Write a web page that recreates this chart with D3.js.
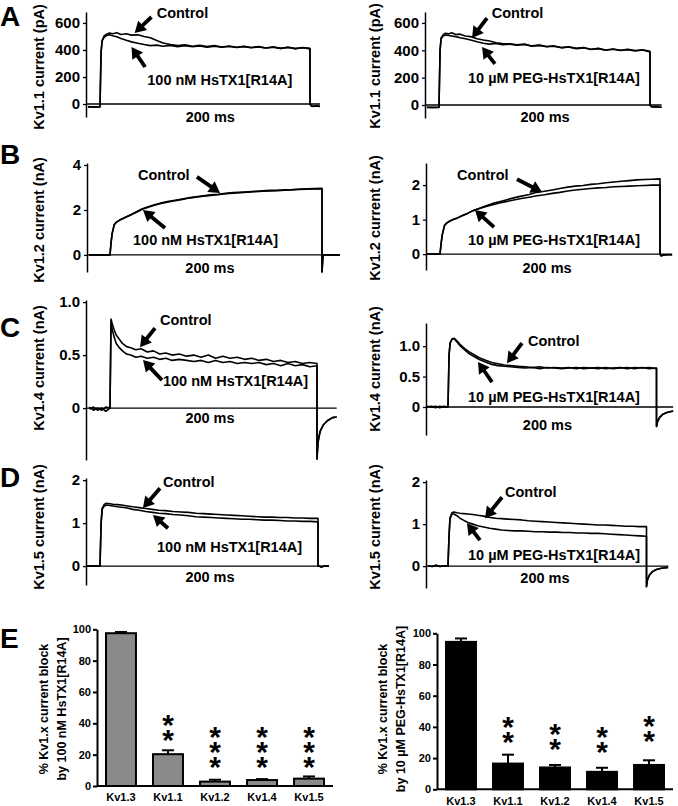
<!DOCTYPE html>
<html><head><meta charset="utf-8">
<script src="https://cdn.jsdelivr.net/npm/d3@7"></script>
<style>
body{margin:0;background:#fff}
svg{display:block}
text{font-family:"Liberation Sans",Arial,sans-serif;font-weight:bold;fill:#000}
</style>
</head><body>
<svg id="fig" width="678" height="806"></svg>
<script>
// ---------- time grid (ms) shared by all current traces ----------
const timeMs = [-20,-16,-12,-8,-4,0, 1,2,4,6,9,12,16,20,25,30,36,42,48,54,60,67,74,81,88,95,102,109,116,123,130,137,144,151,158,165,172,179,186,193,200, 200,201,203,206,210,215,222];

// ---------- Panel A: Kv1.1 (pA) ----------
const kv11HsCtrl = [-22,-18,-24,-20,-22,-20, 380,470,505,515,525,520,528,515,520,510, 512,500,490,470,452, 440,432,438,428,435,425,432,422,430,420, 428,418,425,415,422,412,420,410,418,412, 0,-12,-18,-14,-18,-15,-16];
const kv11HsDrug = [-20,-22,-18,-22,-20,-21, 380,465,495,505,512,505,498,485,472,460, 450,440,432,436,428, 434,425,432,424,430,421,428,420,426,418, 425,416,423,414,421,412,419,410,417,408, 0,-12,-16,-14,-17,-15,-16];
const kv11PegCtrl = [-18,-14,-20,-16,-18,-16, 400,490,515,525,520,528,515,518,505,500, 485,475,468,455,450, 448,440,445,432,438,428,432,420,425,415, 420,408,414,402,410,400,407,398,404,392, 0,-10,-14,-12,-16,-18,-22];
const kv11PegDrug = [-16,-18,-14,-18,-16,-18, 400,485,505,512,508,505,500,492,485,475, 462,452,445,450,440, 445,437,442,430,436,426,430,418,424,412, 418,406,412,400,408,398,405,395,402,388, 0,-10,-14,-12,-16,-18,-22];

// ---------- Panel B: Kv1.2 (nA) ----------
const kv12HsCtrl = [0,0,0,0,0,0, 0.55,0.95,1.35,1.46,1.55,1.62,1.71,1.80,1.92,2.04, 2.14,2.23,2.31,2.37,2.42, 2.48,2.54,2.59,2.63,2.67,2.70,2.74,2.77,2.79,2.81, 2.83,2.85,2.87,2.88,2.90,2.91,2.93,2.94,2.95,2.96, -0.76,0,0,0,0,0,0];
const kv12HsDrug = [0,0,0,0,0,0, 0.55,0.95,1.34,1.45,1.54,1.61,1.70,1.79,1.90,2.02, 2.12,2.21,2.29,2.35,2.40, 2.46,2.52,2.57,2.61,2.65,2.68,2.72,2.75,2.77,2.79, 2.81,2.83,2.85,2.86,2.88,2.89,2.91,2.92,2.93,2.94, -0.76,0,0,0,0,0,0];
const kv12PegCtrl = [0,0,0,0,0,0, 0.30,0.55,0.82,0.90,0.96,1.00,1.05,1.11,1.18,1.26, 1.33,1.40,1.47,1.52,1.57, 1.63,1.68,1.73,1.79,1.82,1.86,1.90,1.94,1.97,1.99, 2.02,2.04,2.07,2.09,2.11,2.13,2.15,2.16,2.17,2.18, 0,-0.05,-0.03,-0.02,-0.02,-0.01,-0.01];
const kv12PegDrug = [0,0,0,0,0,0, 0.30,0.55,0.82,0.90,0.96,1.00,1.05,1.11,1.18,1.26, 1.32,1.38,1.43,1.48,1.52, 1.57,1.61,1.65,1.69,1.72,1.76,1.79,1.83,1.86,1.88, 1.90,1.92,1.93,1.95,1.96,1.97,1.98,1.99,2.00,2.00, 0,-0.05,-0.03,-0.02,-0.02,-0.01,-0.01];

// ---------- Panel C: Kv1.4 (nA) ----------
const kv14HsCtrl = [-0.01,0.01,-0.02,0.0,-0.03,0.0, 0.84,0.80,0.74,0.69,0.65,0.61,0.58,0.57,0.55,0.56, 0.53,0.54,0.51,0.52,0.50, 0.51,0.49,0.50,0.48,0.50,0.47,0.49,0.47,0.48,0.46, 0.47,0.45,0.46,0.44,0.45,0.43,0.44,0.42,0.43,0.42, -0.48,-0.32,-0.22,-0.16,-0.12,-0.09,-0.08];
const kv14HsDrug = [0.01,-0.02,0.0,-0.02,0.01,0.0, 0.82,0.75,0.67,0.61,0.57,0.54,0.51,0.50,0.48,0.49, 0.47,0.48,0.46,0.47,0.45, 0.46,0.45,0.44,0.45,0.43,0.45,0.43,0.44,0.42,0.43, 0.42,0.43,0.41,0.42,0.40,0.42,0.40,0.41,0.39,0.40, -0.48,-0.32,-0.22,-0.16,-0.12,-0.09,-0.08];
const kv14PegCtrl = [0.0,0.01,-0.01,0.01,0.0,0.0, 0.85,1.05,1.12,1.13,1.08,1.02,0.96,0.91,0.86,0.81, 0.77,0.73,0.71,0.69,0.68, 0.67,0.66,0.65,0.66,0.64,0.65,0.64,0.65,0.63,0.65, 0.64,0.65,0.63,0.64,0.65,0.63,0.65,0.64,0.65,0.63, -0.32,-0.24,-0.17,-0.12,-0.09,-0.07,-0.06];
const kv14PegDrug = [0.01,0.0,0.01,-0.01,0.01,0.0, 0.85,1.05,1.12,1.12,1.06,1.00,0.94,0.88,0.83,0.78, 0.74,0.70,0.68,0.67,0.66, 0.65,0.64,0.65,0.63,0.65,0.64,0.63,0.64,0.65,0.63, 0.64,0.63,0.65,0.63,0.64,0.65,0.63,0.65,0.63,0.64, -0.32,-0.24,-0.17,-0.12,-0.09,-0.07,-0.06];

// ---------- Panel D: Kv1.5 (nA) ----------
const kv15HsCtrl = [0,0,0,0,0,0, 1.00,1.35,1.44,1.46,1.45,1.44,1.43,1.42,1.40,1.38, 1.36,1.34,1.32,1.30,1.29, 1.27,1.26,1.25,1.23,1.22,1.21,1.20,1.19,1.18,1.17, 1.16,1.15,1.14,1.14,1.13,1.13,1.12,1.12,1.11,1.11, 0,0,-0.02,0,0,0,0];
const kv15HsDrug = [0,0,0,0,0,0, 1.00,1.32,1.40,1.42,1.41,1.40,1.38,1.37,1.35,1.32, 1.30,1.27,1.25,1.23,1.22, 1.20,1.19,1.17,1.15,1.14,1.13,1.12,1.11,1.10,1.09, 1.09,1.08,1.07,1.07,1.06,1.05,1.05,1.04,1.04,1.03, 0,0,-0.02,0,0,0,0];
const kv15PegCtrl = [0.01,-0.01,0.02,-0.01,0.01,0.0, 0.70,1.15,1.27,1.29,1.27,1.26,1.25,1.24,1.23,1.21, 1.19,1.16,1.14,1.13,1.12, 1.11,1.10,1.08,1.07,1.06,1.05,1.04,1.03,1.02,1.01, 1.00,0.99,0.98,0.98,0.97,0.96,0.95,0.95,0.94,0.94, -0.49,-0.32,-0.21,-0.13,-0.08,-0.05,-0.03];
const kv15PegDrug = [0.01,-0.01,0.02,-0.01,0.01,0.0, 0.70,1.12,1.24,1.24,1.20,1.14,1.09,1.04,1.00,0.96, 0.93,0.90,0.88,0.86,0.85, 0.84,0.84,0.83,0.82,0.82,0.81,0.81,0.80,0.80,0.79, 0.79,0.78,0.78,0.77,0.76,0.75,0.74,0.73,0.72,0.71, -0.49,-0.32,-0.21,-0.13,-0.08,-0.05,-0.03];

// ---------- axis tick values ----------
const ticksKv11 = [0,200,400,600];
const ticksKv12Hs = [0,2,4];
const ticksKv12Peg = [0,1,2];
const ticksKv14 = [0,0.5,1.0];
const ticksKv15 = [0,1,2];

// ---------- Panel E: % block ----------
const channels = ["Kv1.3","Kv1.1","Kv1.2","Kv1.4","Kv1.5"];
const blockHs = [97.5, 20.3, 2.8, 3.8, 4.7];
const blockHsErr = [0.8, 2.5, 1.2, 0.6, 1.4];
const blockPeg = [94.5, 16.5, 14.0, 11.2, 15.6];
const blockPegErr = [2.2, 5.7, 1.6, 2.6, 3.0];
const starsHs = ["", "**", "***", "***", "***"];
const starsPeg = ["", "**", "**", "**", "**"];
const starTopHs = [0, 43.4, 35.7, 35.7, 35.7];
const starTopPeg = [0, 44.4, 40.1, 38.0, 45.0];
const ticksBlock = [0,20,40,60,80,100];

const hsLabel = "100 nM HsTX1[R14A]";
const pegLabel = "10 \u00b5M PEG-HsTX1[R14A]";

const fmtInt = d3.format("d");
const fmtNa = d => d === 0 ? "0" : d3.format(".1f")(d);

// layout + annotation positions (annotation positions in data units: [t ms, value])
const panels = [
 {letter:"A", lx:0, ly:25.5, ylab:"Kv1.1 current (pA)", ctrl:kv11HsCtrl, drug:kv11HsDrug, dText:hsLabel, ticks:ticksKv11, fmt:fmtInt,
  axisX:86, stepX:100, endX:310, yTop:12, yBot:117, yDom:[-96,681], tDom:[-11.5,209.5], labX:39, labY:67,
  cT:[54,674], dT:[45,178], ms:[105,-96], aC:[49,644,33,526], aD:[43,274,30,422]},
 {ylab:"Kv1.1 current (pA)", ctrl:kv11PegCtrl, drug:kv11PegDrug, dText:pegLabel, ticks:ticksKv11, fmt:fmtInt,
  axisX:425, stepX:439, endX:650, yTop:12, yBot:118, yDom:[-95,680], tDom:[-11.5,211], labX:375, labY:66,
  cT:[50,673], dT:[27.5,198], ms:[100.5,-88], aC:[45.5,636,31.3,490], aD:[53,300,40.8,424]},
 {letter:"B", lx:0, ly:164, ylab:"Kv1.2 current (nA)", ctrl:kv12HsCtrl, drug:kv12HsDrug, dText:hsLabel, ticks:ticksKv12Hs, fmt:fmtInt,
  axisX:87, stepX:110, endX:322, yTop:163, yBot:272, yDom:[-0.76,4.09], tDom:[-20,217], labX:39, labY:220,
  cT:[26.4,3.56], dT:[21.7,0.67], ms:[94.3,-0.58], aC:[82,3.47,103.8,2.76], aD:[51.9,1.2,31.1,2.0]},
 {ylab:"Kv1.2 current (nA)", ctrl:kv12PegCtrl, drug:kv12PegDrug, dText:pegLabel, ticks:ticksKv12Peg, fmt:fmtInt,
  axisX:426, stepX:440, endX:660, yTop:163, yBot:270, yDom:[-0.46,2.64], tDom:[-12,211], labX:375, labY:218,
  cT:[15.5,2.29], dT:[25.5,0.41], ms:[97.3,-0.41], aC:[70,2.17,92.7,1.80], aD:[49.1,0.78,31.8,1.28]},
 {letter:"C", lx:0, ly:337, ylab:"Kv1.4 current (nA)", ctrl:kv14HsCtrl, drug:kv14HsDrug, dText:hsLabel, ticks:ticksKv14, fmt:fmtNa,
  axisX:86, stepX:110, endX:317, yTop:300, yBot:460, yDom:[-0.49,1.02], tDom:[-21,219], labX:39, labY:368,
  cT:[48.3,0.83], dT:[51.2,0.26], ms:[96.6,-0.094], aC:[43.5,0.755,29,0.575], aD:[50.2,0.264,31.9,0.453]},
 {ylab:"Kv1.4 current (nA)", ctrl:kv14PegCtrl, drug:kv14PegDrug, dText:pegLabel, ticks:ticksKv14, fmt:fmtNa,
  axisX:426, stepX:448, endX:656.5, yTop:323, yBot:435, yDom:[-0.46,1.38], tDom:[-20.5,216], labX:375, labY:369,
  cT:[76.7,1.087], dT:[19.2,0.169], ms:[95.4,-0.295], aC:[71,1.05,56.6,0.72], aD:[42.2,0.41,28.8,0.74]},
 {letter:"D", lx:0, ly:487, ylab:"Kv1.5 current (nA)", ctrl:kv15HsCtrl, drug:kv15HsDrug, dText:hsLabel, ticks:ticksKv15, fmt:fmtInt,
  axisX:86, stepX:100, endX:318, yTop:478, yBot:585, yDom:[-0.44,2.05], tDom:[-12.5,210], labX:39, labY:527,
  cT:[57.8,1.95], dT:[52.3,0.44], ms:[100.9,-0.26], aC:[55,1.81,39.4,1.35], aD:[62.4,0.88,48.6,1.19]},
 {ylab:"Kv1.5 current (nA)", ctrl:kv15PegCtrl, drug:kv15PegDrug, dText:pegLabel, ticks:ticksKv15, fmt:fmtInt,
  axisX:426, stepX:448, endX:646.5, yTop:480, yBot:588, yDom:[-0.52,2.05], tDom:[-20.5,222], labX:375, labY:527,
  cT:[57.4,1.76], dT:[20.2,0.26], ms:[97.7,-0.29], aC:[54.4,1.64,37.3,1.14], aD:[32.2,0.62,19.1,1.02]}
];

const svg = d3.select("#fig");
const defs = svg.append("defs");

function arrow(g, x1, y1, x2, y2){
  const dx = x2-x1, dy = y2-y1, L = Math.hypot(dx,dy);
  const ux = dx/L, uy = dy/L, nx = -uy, ny = ux;
  const sw = 1.9, hw = 6.5, hl = 11;
  const bx = x2-ux*hl, by = y2-uy*hl;
  const pts = [[x1+nx*sw,y1+ny*sw],[bx+nx*sw,by+ny*sw],[bx+nx*hw,by+ny*hw],[x2,y2],
               [bx-nx*hw,by-ny*hw],[bx-nx*sw,by-ny*sw],[x1-nx*sw,y1-ny*sw]];
  g.append("path").attr("d", d3.line()(pts) + "Z").attr("fill", "#000");
}

panels.forEach((p, i) => {
  const g = svg.append("g");
  const x = d3.scaleLinear().domain([0,200]).range([p.stepX, p.endX]);
  const y = d3.scaleLinear().domain(p.yDom).range([p.yBot, p.yTop]);
  const cid = "clip" + i;
  defs.append("clipPath").attr("id", cid).append("rect")
    .attr("x", x(p.tDom[0])).attr("y", 0)
    .attr("width", x(p.tDom[1]) - x(p.tDom[0])).attr("height", 806);

  // zero line
  g.append("line").attr("x1", p.axisX).attr("x2", x(p.tDom[1]))
    .attr("y1", y(0)).attr("y2", y(0)).attr("stroke", "#000").attr("stroke-width", 1.4);

  // y axis
  const ax = g.append("g").attr("transform", `translate(${p.axisX},0)`)
    .call(d3.axisLeft(y).tickValues(p.ticks).tickFormat(p.fmt).tickSize(3).tickSizeOuter(0).tickPadding(3));
  ax.select(".domain").attr("stroke-width", 1.5);
  ax.selectAll(".tick line").attr("stroke-width", 1.3);
  ax.selectAll("text").attr("font-size", 15).attr("font-weight", "bold").attr("font-family", '"Liberation Sans",Arial,sans-serif');

  // traces
  const line = d3.line().x((d, j) => x(timeMs[j])).y(d => y(d));
  [p.ctrl, p.drug].forEach(s => {
    g.append("path").attr("d", line(s)).attr("clip-path", `url(#${cid})`)
      .attr("fill", "none").attr("stroke", "#000").attr("stroke-width", 1.6).attr("stroke-linejoin", "round");
  });

  // labels
  g.append("text").attr("x", x(p.cT[0])).attr("y", y(p.cT[1])).attr("dominant-baseline", "central")
    .attr("font-size", 14.5).text("Control");
  g.append("text").attr("x", x(p.dT[0])).attr("y", y(p.dT[1])).attr("dominant-baseline", "central")
    .attr("font-size", 14.5).text(p.dText);
  g.append("text").attr("x", x(p.ms[0])).attr("y", y(p.ms[1])).attr("dominant-baseline", "central")
    .attr("text-anchor", "middle").attr("font-size", 14.5).text("200 ms");
  arrow(g, x(p.aC[0]), y(p.aC[1]), x(p.aC[2]), y(p.aC[3]));
  arrow(g, x(p.aD[0]), y(p.aD[1]), x(p.aD[2]), y(p.aD[3]));

  // y label
  g.append("text").attr("transform", `translate(${p.labX},${p.labY}) rotate(-90)`)
    .attr("text-anchor", "middle").attr("dominant-baseline", "central").attr("font-size", 14.5).text(p.ylab);

  if (p.letter) {
    g.append("text").attr("x", p.lx).attr("y", p.ly).attr("font-size", 28).text(p.letter);
  }
});

// ---------- Panel E ----------
function barPanel(c){
  const g = svg.append("g");
  const x = d3.scaleBand().domain(channels).range([c.x0, c.x1]).paddingInner(0.32).paddingOuter(0.17);
  const y = d3.scaleLinear().domain([0,100]).range([c.y0, c.y100]);
  const bw = x.bandwidth();

  // error bars
  channels.forEach((ch, k) => {
    const cx = x(ch) + bw/2, top = y(c.vals[k] + c.errs[k]);
    g.append("line").attr("x1", cx).attr("x2", cx).attr("y1", y(c.vals[k])).attr("y2", top)
      .attr("stroke", "#000").attr("stroke-width", 2);
    g.append("line").attr("x1", cx - 6).attr("x2", cx + 6).attr("y1", top).attr("y2", top)
      .attr("stroke", "#000").attr("stroke-width", 2);
  });
  g.selectAll("rect.bar").data(c.vals).join("rect").attr("class", "bar")
    .attr("x", (d, k) => x(channels[k]) + 1).attr("width", bw - 2)
    .attr("y", d => y(d)).attr("height", d => y(0) - y(d))
    .attr("fill", c.fill).attr("stroke", "#000").attr("stroke-width", 2);

  // axes
  const ax = g.append("g").attr("transform", `translate(${c.x0},0)`)
    .call(d3.axisLeft(y).tickValues(ticksBlock).tickSize(4).tickSizeOuter(0).tickPadding(2));
  ax.select(".domain").attr("stroke-width", 2);
  ax.selectAll(".tick line").attr("stroke-width", 2);
  ax.selectAll("text").attr("font-size", 11).attr("font-weight", "bold").attr("font-family", '"Liberation Sans",Arial,sans-serif');
  g.append("line").attr("x1", c.x0).attr("x2", c.x1).attr("y1", y(0)).attr("y2", y(0))
    .attr("stroke", "#000").attr("stroke-width", 2);

  channels.forEach((ch, k) => {
    g.append("text").attr("x", x(ch) + bw/2).attr("y", c.tickY).attr("text-anchor", "middle")
      .attr("dominant-baseline", "central").attr("font-size", 11).text(ch);
    if (c.stars[k].length > 0) {
      // the significance stars form one vertical string; each glyph is turned back upright
      const cx = x(ch) + bw/2;
      g.append("text")
        .attr("transform", `translate(${cx - 5.8},${y(c.starTop[k]) + 17}) rotate(90)`)
        .attr("rotate", "-90")
        .attr("letter-spacing", 3.33)
        .attr("font-size", 30).attr("font-weight", "normal")
        .text(c.stars[k]);
    }
  });

  c.ylab.forEach((t, k) => {
    g.append("text").attr("transform", `translate(${c.labX[k]},${c.labY}) rotate(-90)`)
      .attr("text-anchor", "middle").attr("dominant-baseline", "central").attr("font-size", 12.5).text(t);
  });
}

barPanel({x0:97, x1:333, y0:786, y100:629.3, vals:blockHs, errs:blockHsErr, fill:"#8a8a8a",
  stars:starsHs, starTop:starTopHs, tickY:797, labX:[44,62], labY:709,
  ylab:["% Kv1.x current block", "by " + hsLabel]});
barPanel({x0:437, x1:673, y0:789.3, y100:633.3, vals:blockPeg, errs:blockPegErr, fill:"#000",
  stars:starsPeg, starTop:starTopPeg, tickY:801, labX:[383,401], labY:709,
  ylab:["% Kv1.x current block", "by " + pegLabel]});

svg.append("text").attr("x", 0).attr("y", 648).attr("font-size", 28).text("E");
</script>
</body></html>
